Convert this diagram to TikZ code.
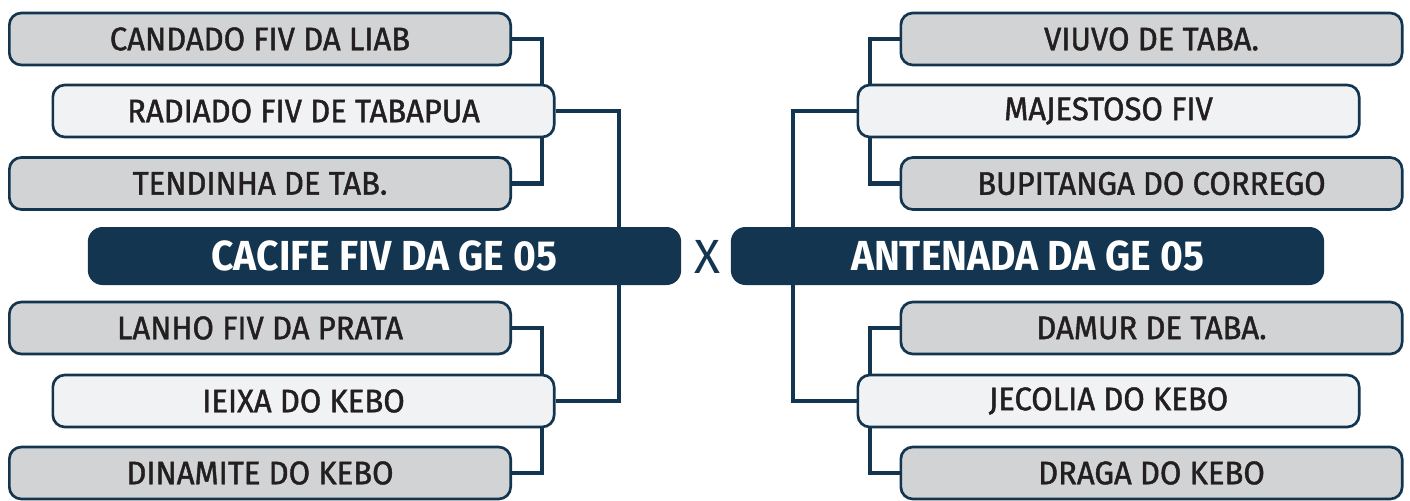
\documentclass[tikz,border=0pt]{standalone}
\usepackage{fontspec}
\setmainfont{Fira Sans}
\newfontfamily\teamfont{Fira Sans}[FakeStretch=0.95,FakeBold=1.3]
\newfontfamily\finalfont{Fira Sans}[FakeStretch=0.93]
\definecolor{navy}{HTML}{13354F}
\definecolor{seedgray}{HTML}{D1D3D4}
\definecolor{seedlight}{HTML}{F1F2F4}
\definecolor{ink}{HTML}{231F20}
\begin{document}
\begin{tikzpicture}[x=0.75pt,y=-0.75pt,
  team/.style={draw=navy,line width=2pt,rounded corners=9pt,fill=seedgray,
    minimum width=376pt,minimum height=39pt,inner sep=0pt,text=ink,
    font=\teamfont\fontsize{24.5}{24.5}\selectfont},
  winner/.style={team,fill=seedlight},
  finalist/.style={fill=navy,rounded corners=11pt,minimum width=445pt,
    minimum height=43.5pt,inner sep=0pt,text=white,
    font=\finalfont\bfseries\fontsize{31.5}{31.5}\selectfont},
  link/.style={draw=navy,line width=3.4pt}]
\useasboundingbox (0,0) rectangle (1410,500);
% left side
\node[team] (candado) at (260,39) {CANDADO FIV DA LIAB};
\node[winner] (radiado) at (303.5,111) {RADIADO FIV DE TABAPUA};
\node[team] (tendinha) at (260,183.5) {TENDINHA DE TAB.};
\node[finalist] (cacife) at (384.5,256) {CACIFE FIV DA GE 05};
\node[team] (lanho) at (260,328) {LANHO FIV DA PRATA};
\node[winner] (ieixa) at (303.5,401) {IEIXA DO KEBO};
\node[team] (dinamite) at (260,473) {DINAMITE DO KEBO};
% right side
\node[team] (viuvo) at (1151.5,39) {VIUVO DE TABA.};
\node[winner] (majestoso) at (1108.5,111) {MAJESTOSO FIV};
\node[team] (bupitanga) at (1151.5,183.5) {BUPITANGA DO CORREGO};
\node[finalist] (antenada) at (1027.5,256) {ANTENADA DA GE 05};
\node[team] (damur) at (1151.5,328) {DAMUR DE TABA.};
\node[winner] (jecolia) at (1108.5,401) {JECOLIA DO KEBO};
\node[team] (draga) at (1151.5,473) {DRAGA DO KEBO};
\node[text=navy,font=\fontsize{36}{36}\selectfont] (versus) at (707,257) {X};
% brackets
\coordinate (lin) at (542,0);
\coordinate (lout) at (619,0);
\coordinate (rin) at (870,0);
\coordinate (rout) at (793,0);
\draw[link] (candado.east) -| (radiado.north -| lin);
\draw[link] (tendinha.east) -| (radiado.south -| lin);
\draw[link] (radiado.east) -| (cacife.north -| lout);
\draw[link] (lanho.east) -| (ieixa.north -| lin);
\draw[link] (dinamite.east) -| (ieixa.south -| lin);
\draw[link] (ieixa.east) -| (cacife.south -| lout);
\draw[link] (viuvo.west) -| (majestoso.north -| rin);
\draw[link] (bupitanga.west) -| (majestoso.south -| rin);
\draw[link] (majestoso.west) -| (antenada.north -| rout);
\draw[link] (damur.west) -| (jecolia.north -| rin);
\draw[link] (draga.west) -| (jecolia.south -| rin);
\draw[link] (jecolia.west) -| (antenada.south -| rout);
\end{tikzpicture}
\end{document}
